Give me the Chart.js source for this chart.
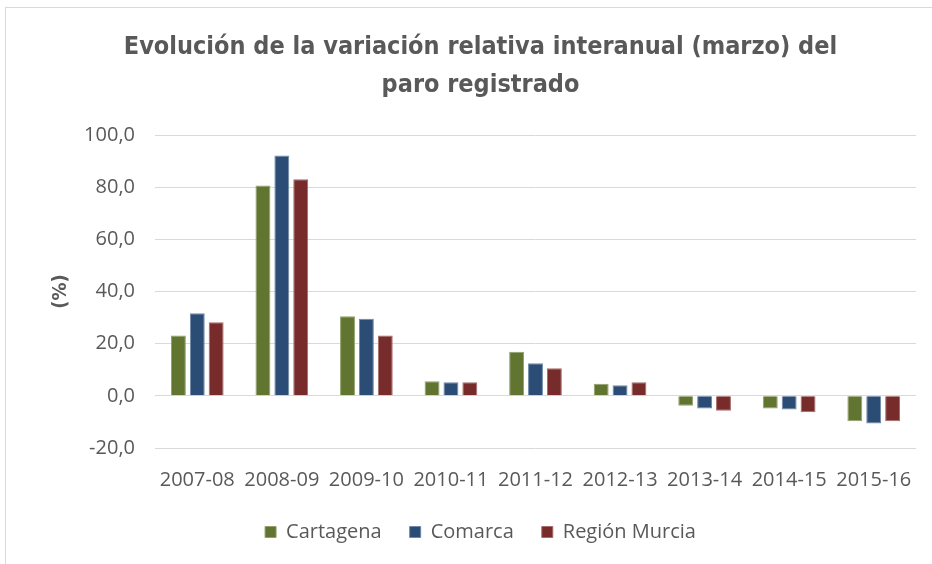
<!DOCTYPE html>
<html>
<head>
<meta charset="utf-8">
<script src="https://cdn.jsdelivr.net/npm/chart.js@4"></script>
<style>
  html, body { margin: 0; padding: 0; background: #fff; }
  #wrap { position: relative; width: 932px; height: 564px; }
  #frame { position: absolute; left: 5px; top: 7px; width: 940px; height: 570px;
           border-left: 1px solid #d9d9d9; border-top: 1px solid #d9d9d9; pointer-events: none; }
</style>
</head>
<body>
<div id="wrap">
  <canvas id="ex_chart" width="932" height="564"></canvas>
  <div id="frame"></div>
</div>
<script>
// datos
const categories = ['2007-08', '2008-09', '2009-10', '2010-11', '2011-12', '2012-13', '2013-14', '2014-15', '2015-16'];
const cartagena = [23.1, 80.6, 30.5, 5.6, 16.9, 4.6, -3.8, -4.9, -9.7];
const comarca = [31.7, 92.1, 29.6, 5.2, 12.5, 4.1, -4.9, -5.2, -10.6];
const regionMurcia = [28.2, 83.0, 23.1, 5.2, 10.6, 5.2, -5.7, -6.3, -9.7];
const yTicks = [-20, 0, 20, 40, 60, 80, 100];

const titleFam = "'DejaVu Sans Condensed', 'Open Sans', sans-serif";
const textFam = "'Open Sans', 'DejaVu Sans', sans-serif";
const grey = '#595959';

window.addEventListener('load', function () {
    const ctx = document.getElementById('ex_chart');

    const data = {
        labels: categories,
        datasets: [
            { label: 'Cartagena', data: cartagena, backgroundColor: '#617430', borderColor: '#8fa06a', borderWidth: 1 },
            { label: 'Comarca', data: comarca, backgroundColor: '#2b4c74', borderColor: '#6f88a8', borderWidth: 1 },
            { label: 'Región Murcia', data: regionMurcia, backgroundColor: '#772b2b', borderColor: '#a56a6a', borderWidth: 1 }
        ]
    };

    const options = {
        responsive: false,
        animation: false,
        layout: { padding: { left: 45, right: 16, top: 0, bottom: 12 } },
        datasets: { bar: { categoryPercentage: 0.67, barPercentage: 0.79 } },
        plugins: {
            title: {
                display: true,
                text: ['Evolución de la variación relativa interanual (marzo) del', 'paro registrado'],
                color: grey,
                font: { family: titleFam, size: 25, weight: 'bold', lineHeight: 1.5 },
                padding: { top: 29, bottom: 31 }
            },
            legend: {
                position: 'bottom',
                labels: {
                    color: grey,
                    font: { family: textFam, size: 20 },
                    boxWidth: 11, boxHeight: 11, padding: 28
                }
            },
            tooltip: { enabled: false }
        },
        scales: {
            x: {
                grid: { display: false },
                border: { display: false },
                afterFit: s => { s.height = 46; },
                ticks: { color: grey, font: { family: textFam, size: 20 }, padding: 12, maxRotation: 0 }
            },
            y: {
                min: -20, max: 100,
                afterBuildTicks: s => { s.ticks = yTicks.map(v => ({ value: v })); },
                afterFit: s => { s.width = 110; },
                grid: { color: '#d9d9d9', drawTicks: false },
                border: { display: false },
                ticks: {
                    color: grey, font: { family: textFam, size: 20 }, padding: 20,
                    callback: v => v.toFixed(1).replace('.', ',')
                },
                title: {
                    display: true, text: '(%)', color: grey,
                    font: { family: titleFam, size: 20, weight: 'bold' }, padding: { top: 4, bottom: 0 }
                }
            }
        }
    };

    new Chart(ctx, { type: 'bar', data: data, options: options });
});
</script>
</body>
</html>
